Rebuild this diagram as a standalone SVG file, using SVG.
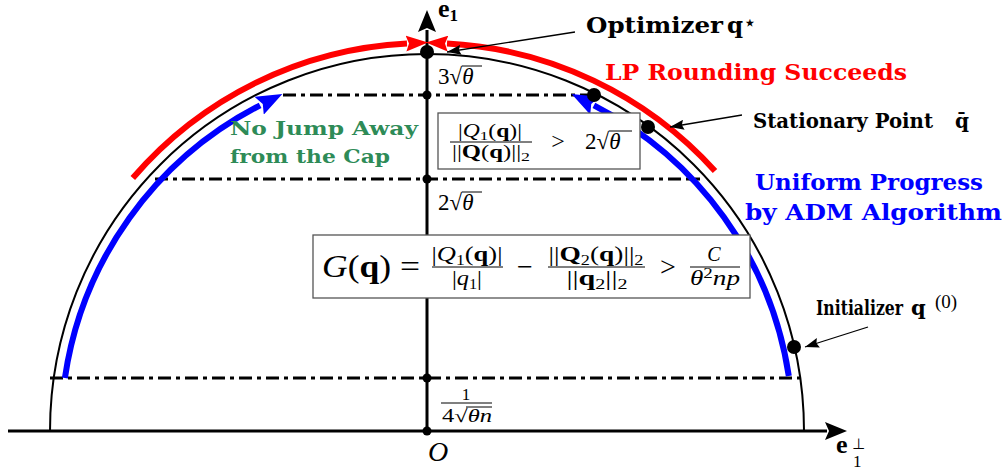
<svg xmlns="http://www.w3.org/2000/svg" width="1008" height="473" viewBox="0 0 1008 473">
<style>
.lbl{font-family:"DejaVu Serif",serif;font-weight:bold}
.m{font-family:"Liberation Serif",serif}
.it{font-style:italic}
.b{font-weight:bold}
.dd{stroke:#000;stroke-width:3;stroke-dasharray:13 5 4 5;fill:none}
.ann{stroke:#000;stroke-width:1.3;fill:none;marker-end:url(#ka)}
.box{fill:#fff;stroke:#555;stroke-width:1.3}
.fl{stroke:#000;stroke-width:1}
</style>
<defs>
<marker id="ax" markerUnits="userSpaceOnUse" markerWidth="22" markerHeight="18" viewBox="0 0 22 18" refX="2" refY="9" orient="auto"><path d="M0,0 L22,9 L0,18 L4,9 z" fill="#000"/></marker>
<marker id="ra" markerUnits="userSpaceOnUse" markerWidth="22" markerHeight="16" viewBox="0 0 22 16" refX="1" refY="8" orient="auto"><path d="M0,0 L22,8 L0,16 L3,8 z" fill="#f00"/></marker>
<marker id="ba" markerUnits="userSpaceOnUse" markerWidth="26" markerHeight="20" viewBox="0 0 26 20" refX="1" refY="10" orient="auto"><path d="M0,0 L26,10 L0,20 L4,10 z" fill="#00f"/></marker>
<marker id="ka" markerUnits="userSpaceOnUse" markerWidth="14" markerHeight="10" viewBox="0 0 14 10" refX="14" refY="5" orient="auto"><path d="M0,0 L14,5 L0,10 L2,5 z" fill="#000"/></marker>
</defs>

<g id="connectors">
<line x1="8" y1="431" x2="827" y2="431" stroke="#000" stroke-width="3" marker-end="url(#ax)"/>
<line x1="427" y1="431" x2="427" y2="30" stroke="#000" stroke-width="3" marker-end="url(#ax)"/>
<path d="M50,431 A377,377 0 0 1 804,431" fill="none" stroke="#000" stroke-width="2"/>
<line class="dd" x1="283" y1="95" x2="594" y2="95"/>
<line class="dd" x1="155" y1="179" x2="700" y2="179"/>
<line class="dd" x1="50" y1="378" x2="800" y2="378"/>
<path d="M132.8,178 A388,388 0 0 1 407,43.5" fill="none" stroke="#f00" stroke-width="6" marker-end="url(#ra)"/>
<path d="M715,171 A388,388 0 0 0 447,43.5" fill="none" stroke="#f00" stroke-width="6" marker-end="url(#ra)"/>
<path d="M64.9,378 A366,366 0 0 1 260.1,105.3" fill="none" stroke="#00f" stroke-width="6" marker-end="url(#ba)"/>
<path d="M788.8,376 A366,366 0 0 0 593.9,105.3" fill="none" stroke="#00f" stroke-width="6" marker-end="url(#ba)"/>
<line class="ann" x1="575" y1="32" x2="447" y2="52"/>
<line class="ann" x1="742" y1="115" x2="670" y2="127"/>
<line class="ann" x1="868" y1="327" x2="805" y2="347"/>
</g>

<g id="points">
<circle cx="427" cy="52" r="7"/>
<circle cx="594" cy="95" r="7"/>
<circle cx="648" cy="127" r="7"/>
<circle cx="794" cy="347" r="7"/>
<circle cx="427" cy="95" r="4.5"/>
<circle cx="427" cy="179" r="4.5"/>
<circle cx="427" cy="378" r="4.5"/>
<circle cx="427" cy="431" r="4.5"/>
</g>

<g id="axis-labels">
<text class="m b" x="438" y="17" font-size="26">e<tspan font-size="17" dy="4">1</tspan></text>
<text class="m b" x="836" y="453" font-size="26">e</text>
<text class="m" x="853" y="467" font-size="17">1</text>
<text x="852" y="449" font-size="15" font-family="DejaVu Sans,sans-serif">⊥</text>
<text class="m it" x="428" y="461" font-size="28">O</text>
</g>

<g id="levels">
<text class="m" x="438" y="84" font-size="23">3√<tspan class="it">θ</tspan></text>
<line class="fl" x1="462" y1="66" x2="482" y2="66"/>
<text class="m" x="438" y="210" font-size="23">2√<tspan class="it">θ</tspan></text>
<line class="fl" x1="462" y1="192" x2="482" y2="192"/>
<text class="m" x="466" y="400" font-size="17" text-anchor="middle">1</text>
<line class="fl" x1="441" y1="403" x2="492" y2="403"/>
<text class="m" x="442" y="422" font-size="18" textLength="50" lengthAdjust="spacingAndGlyphs">4√<tspan class="it">θn</tspan></text>
<line class="fl" x1="466" y1="407" x2="492" y2="407"/>
</g>

<g id="box-ratio">
<rect class="box" x="438" y="113" width="202" height="56"/>
<text class="m" x="490" y="137" font-size="18" text-anchor="middle" textLength="64" lengthAdjust="spacingAndGlyphs">|<tspan class="it">Q</tspan><tspan font-size="13" dy="3">1</tspan><tspan dy="-3">(</tspan><tspan class="b">q</tspan>)|</text>
<line class="fl" x1="450" y1="142" x2="532" y2="142"/>
<text class="m" x="491" y="158" font-size="18" text-anchor="middle" textLength="78" lengthAdjust="spacingAndGlyphs">||<tspan class="b">Q</tspan>(<tspan class="b">q</tspan>)||<tspan font-size="13" dy="3">2</tspan></text>
<text class="m" x="558" y="149" font-size="24" text-anchor="middle">&gt;</text>
<text class="m" x="585" y="149" font-size="23">2√<tspan class="it">θ</tspan></text>
<line class="fl" x1="609" y1="131" x2="632" y2="131"/>
</g>

<g id="box-G">
<rect class="box" x="313" y="235" width="437" height="63"/>
<text class="m" x="322" y="277" font-size="31" textLength="98" lengthAdjust="spacingAndGlyphs"><tspan class="it">G</tspan>(<tspan class="b">q</tspan>) =</text>
<text class="m" x="467" y="261" font-size="21" text-anchor="middle" textLength="71" lengthAdjust="spacingAndGlyphs">|<tspan class="it">Q</tspan><tspan font-size="14" dy="4">1</tspan><tspan dy="-4">(</tspan><tspan class="b">q</tspan>)|</text>
<line class="fl" x1="432" y1="267" x2="503" y2="267"/>
<text class="m" x="467" y="285" font-size="21" text-anchor="middle" textLength="30" lengthAdjust="spacingAndGlyphs">|<tspan class="it">q</tspan><tspan font-size="14" dy="4">1</tspan><tspan dy="-4">|</tspan></text>
<text class="m" x="525" y="276" font-size="28" text-anchor="middle">−</text>
<text class="m" x="596" y="261" font-size="21" text-anchor="middle" textLength="95" lengthAdjust="spacingAndGlyphs">||<tspan class="b">Q</tspan><tspan font-size="14" dy="4">2</tspan><tspan dy="-4">(</tspan><tspan class="b">q</tspan>)||<tspan font-size="14" dy="4">2</tspan></text>
<line class="fl" x1="548" y1="267" x2="645" y2="267"/>
<text class="m" x="597" y="285" font-size="21" text-anchor="middle" textLength="61" lengthAdjust="spacingAndGlyphs">||<tspan class="b">q</tspan><tspan font-size="14" dy="4">2</tspan><tspan dy="-4">||</tspan><tspan font-size="14" dy="4">2</tspan></text>
<text class="m" x="668" y="276" font-size="28" text-anchor="middle">&gt;</text>
<text class="m it" x="714" y="261" font-size="20" text-anchor="middle">C</text>
<line class="fl" x1="690" y1="267" x2="740" y2="267"/>
<text class="m it" x="715" y="285" font-size="20" text-anchor="middle" textLength="50" lengthAdjust="spacingAndGlyphs">θ<tspan font-style="normal" font-size="14" dy="-7">2</tspan><tspan dy="7">np</tspan></text>
</g>

<g id="label-optimizer">
<text class="lbl" x="586" y="33" font-size="23" textLength="137" lengthAdjust="spacingAndGlyphs">Optimizer</text>
<text class="lbl" x="727" y="33" font-size="23">q</text>
<text x="743" y="30" font-size="22" font-family="DejaVu Sans,sans-serif">⋆</text>
</g>
<g id="label-lp">
<text class="lbl" x="605" y="80" font-size="23" fill="#f00" textLength="302" lengthAdjust="spacingAndGlyphs">LP Rounding Succeeds</text>
</g>
<g id="label-stationary">
<text class="lbl" x="753" y="128" font-size="20" textLength="180" lengthAdjust="spacingAndGlyphs">Stationary Point</text>
<text class="lbl" x="955" y="128" font-size="20">q̄</text>
</g>
<g id="label-uniform">
<text class="lbl" x="755" y="190" font-size="23" fill="#00f" textLength="228" lengthAdjust="spacingAndGlyphs">Uniform Progress</text>
<text class="lbl" x="745" y="220" font-size="23" fill="#00f" textLength="257" lengthAdjust="spacingAndGlyphs">by ADM Algorithm</text>
</g>
<g id="label-nojump">
<text class="lbl" x="230" y="135" font-size="19" fill="#2e8b57" textLength="188" lengthAdjust="spacingAndGlyphs">No Jump Away</text>
<text class="lbl" x="230" y="163" font-size="19" fill="#2e8b57" textLength="160" lengthAdjust="spacingAndGlyphs">from the Cap</text>
</g>
<g id="label-initializer">
<text class="lbl" x="816" y="315" font-size="20" textLength="87" lengthAdjust="spacingAndGlyphs">Initializer</text>
<text class="lbl" x="911" y="315" font-size="21">q</text>
<text class="m" x="935" y="308" font-size="19">(0)</text>
</g>
</svg>
